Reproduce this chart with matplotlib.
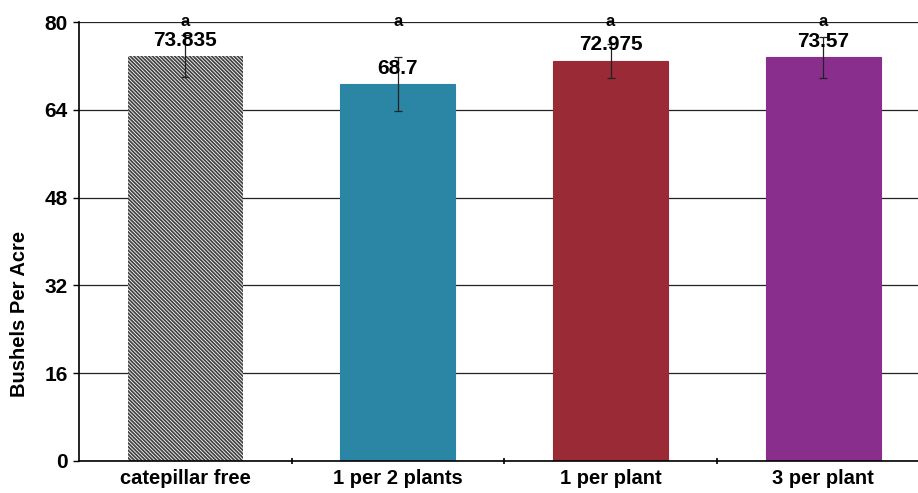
import matplotlib.pyplot as plt
import numpy as np

plt.rcParams["font.family"] = ["Liberation Sans", "DejaVu Sans"]
plt.rcParams["font.weight"] = "bold"
plt.rcParams["hatch.linewidth"] = 1.3

categories = ["catepillar free", "1 per 2 plants", "1 per plant", "3 per plant"]
yields = [73.835, 68.7, 72.975, 73.57]
errors = [3.9, 4.9, 3.1, 3.7]
value_labels = ["73.835", "68.7", "72.975", "73.57"]
letters = ["a", "a", "a", "a"]
y_ticks = [0, 16, 32, 48, 64, 80]

colors = ["white", "#2b86a6", "#992a36", "#8a2e8e"]

fig = plt.figure(figsize=(9.18, 4.93), dpi=100)
ax = fig.add_axes([0.086, 0.065, 0.914, 0.89])

x = np.arange(len(categories))
bars = ax.bar(x, yields, width=0.54, color=colors, edgecolor=colors, linewidth=0.8, zorder=2)
# first bar is the hatched control
bars[0].set_hatch("\\" * 9)
bars[0].set_edgecolor("#444444")
bars[0].set_linewidth(0)

ax.errorbar(x, yields, yerr=errors, fmt="none", ecolor="#222222",
            elinewidth=0.9, capsize=3, capthick=0.9, zorder=3)

for xi, val, lab in zip(x, yields, value_labels):
    ax.text(xi, val + 2.9, lab, ha="center", va="center", fontsize=15,
            fontweight="bold", zorder=4)
for xi, let in zip(x, letters):
    ax.text(xi, 80.2, let, ha="center", va="center", fontsize=12,
            fontweight="bold", zorder=4)

ax.set_ylim(0, 80)
ax.set_xlim(-0.5, 3.446)
ax.set_yticks(y_ticks)
ax.set_yticklabels([str(t) for t in y_ticks], fontsize=15, fontweight="bold")
ax.set_xticks(x)
ax.set_xticklabels(categories, fontsize=14.5, fontweight="bold")
ax.set_xticks([0.5, 1.5, 2.5], minor=True)
ax.tick_params(axis="x", which="major", length=0, pad=6)
ax.tick_params(axis="x", which="minor", length=4, direction="inout", width=1.2)
ax.tick_params(axis="y", length=4, width=1, direction="out", pad=4)
ax.yaxis.grid(True, color="#222222", linewidth=0.9, zorder=0)
ax.set_axisbelow(True)

ax.set_ylabel("Bushels Per Acre", fontsize=14.5, fontweight="bold")
ax.yaxis.set_label_coords(-0.060, 0.335)

for side in ["top", "right"]:
    ax.spines[side].set_visible(False)
ax.spines["left"].set_linewidth(1.2)
ax.spines["bottom"].set_linewidth(1.2)

fig.savefig("out.png", dpi=100)
